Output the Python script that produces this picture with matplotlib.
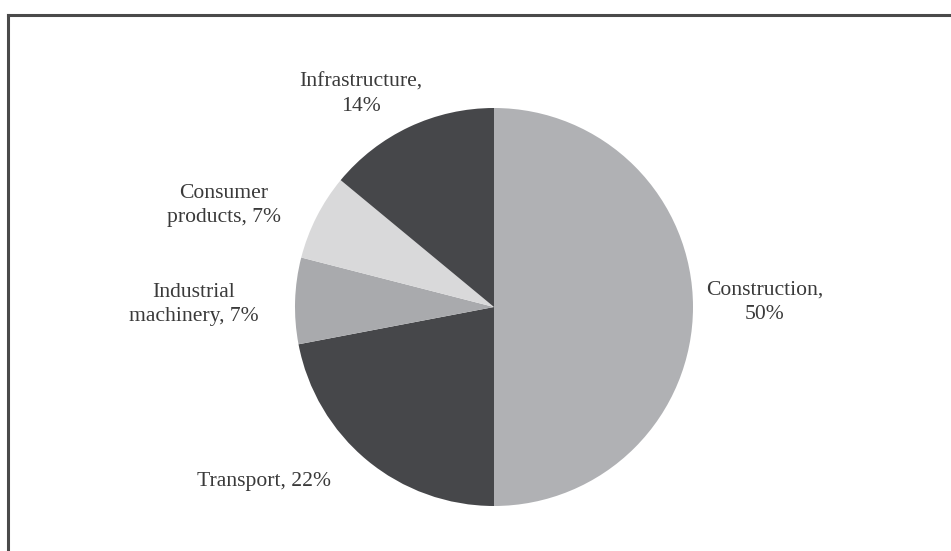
import numpy as np
import matplotlib
matplotlib.use("Agg")
import matplotlib.pyplot as plt
from matplotlib.lines import Line2D

# shares by end use (%)
sectors = ["Construction", "Transport", "Industrial machinery", "Consumer products", "Infrastructure"]
shares = [50, 22, 7, 7, 14]
label_texts = ["Construction,\n50%", "Transport, 22%", "Industrial\nmachinery, 7%",
               "Consumer\nproducts, 7%", "Infrastructure,\n14%"]
colors = ["#b0b1b4", "#46474a", "#a9aaad", "#d9d9da", "#46474a"]

# label placement: (distance in radii, angle in degrees)
label_pos = [(1.36, 1), (1.45, -142.7), (1.51, 179.5), (1.45, 159.4), (1.26, 122)]

W, H = 951, 551
fig = plt.figure(figsize=(W / 100, H / 100), dpi=100)
ax = fig.add_axes([0, 0, 1, 1])

cx, cy, r = 494, H - 307, 199
ax.pie(shares, colors=colors, startangle=90, counterclock=False,
       center=(cx, cy), radius=r, wedgeprops=dict(linewidth=0))
ax.set_xlim(0, W)
ax.set_ylim(0, H)
ax.set_aspect("auto")
ax.axis("off")

for txt, (d, ang) in zip(label_texts, label_pos):
    a = np.deg2rad(ang)
    ax.text(cx + d * r * np.cos(a), cy + d * r * np.sin(a), txt,
            ha="center", va="center", multialignment="center",
            family="Liberation Serif", fontsize=15.6, color="#3a3a3a",
            linespacing=1.35)

# frame: top and left edges only
fig.add_artist(Line2D([8 / W, 1], [1 - 15 / H, 1 - 15 / H], color="#4a4a4a", lw=2.2,
                      transform=fig.transFigure))
fig.add_artist(Line2D([8 / W, 8 / W], [0, 1 - 15 / H], color="#4a4a4a", lw=2.2,
                      transform=fig.transFigure))

fig.savefig("out.png", dpi=100, facecolor="white")
